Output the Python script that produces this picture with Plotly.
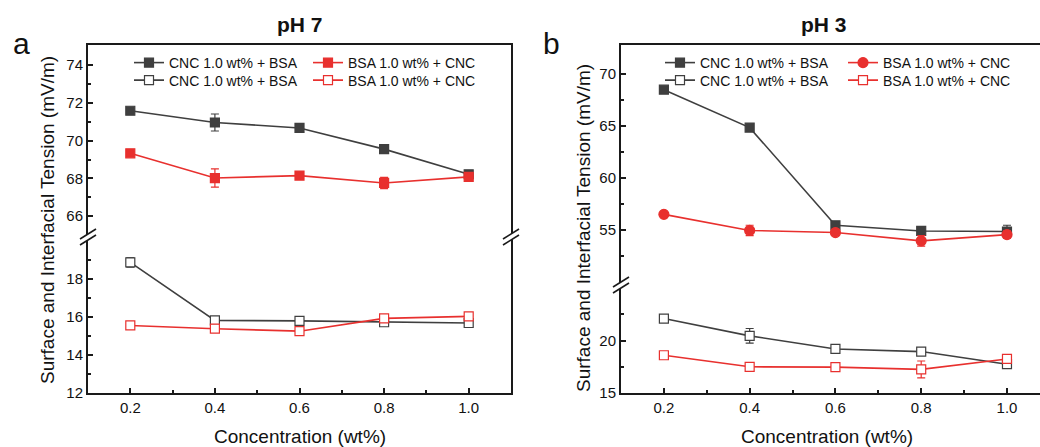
import plotly.graph_objects as go

W, H = 1040, 447

# concentration (wt%)
conc = [0.2, 0.4, 0.6, 0.8, 1.0]

# pH 7, surface (upper segment)
ph7_cnc_top = [71.58, 70.96, 70.67, 69.55, 68.22]
ph7_cnc_top_err = [0.1, 0.45, 0.1, 0.1, 0.1]
ph7_bsa_top = [69.33, 68.02, 68.15, 67.76, 68.08]
ph7_bsa_top_err = [0.1, 0.48, 0.15, 0.3, 0.15]
# pH 7, interface (lower segment)
ph7_cnc_low = [18.87, 15.82, 15.79, 15.72, 15.68]
ph7_cnc_low_err = [0.25, 0.1, 0.1, 0.15, 0.12]
ph7_bsa_low = [15.55, 15.38, 15.25, 15.92, 16.03]
ph7_bsa_low_err = [0.08, 0.12, 0.12, 0.12, 0.15]

# pH 3, surface (upper segment)
ph3_cnc_top = [68.5, 64.85, 55.45, 54.9, 54.85]
ph3_cnc_top_err = [0.2, 0.2, 0.3, 0.2, 0.6]
ph3_bsa_top = [56.5, 54.95, 54.75, 53.95, 54.55]
ph3_bsa_top_err = [0.15, 0.5, 0.25, 0.5, 0.35]
# pH 3, interface (lower segment)
ph3_cnc_low = [22.1, 20.45, 19.2, 18.95, 17.75]
ph3_cnc_low_err = [0.2, 0.7, 0.35, 0.25, 0.3]
ph3_bsa_low = [18.6, 17.5, 17.47, 17.25, 18.25]
ph3_bsa_low_err = [0.2, 0.2, 0.15, 0.8, 0.4]

name_cnc = 'CNC 1.0 wt% + BSA'
name_bsa = 'BSA 1.0 wt% + CNC'

x_ticks = [0.2, 0.4, 0.6, 0.8, 1.0]
x_minor = [0.3, 0.5, 0.7, 0.9]
ph7_top_ticks = [66, 68, 70, 72, 74]
ph7_top_minor = [65, 67, 69, 71, 73]
ph7_low_ticks = [12, 14, 16, 18]
ph7_low_minor = [13, 15, 17, 19]
ph3_top_ticks = [55, 60, 65, 70]
ph3_top_minor = [52.5, 57.5, 62.5, 67.5]
ph3_low_ticks = [15, 20]
ph3_low_minor = [17.5, 22.5]

GREY = '#3f3f3f'
RED = '#e8302e'
AX = '#1a1a1a'
FONT = 'Liberation Sans, Arial, sans-serif'


def px(x):
    return x / W


def py(y):
    return 1 - y / H


def series(y, err, color, symbol, xa, ya, name, legend, filled=True):
    return go.Scatter(
        x=conc, y=y, name=name, legend=legend, xaxis=xa, yaxis=ya,
        mode='lines+markers', showlegend=True,
        line=dict(color=color, width=1.6),
        marker=dict(symbol=symbol, size=10 if symbol == 'circle' else 9,
                    color=color if filled else 'white',
                    line=dict(color=color, width=1.2)),
        error_y=dict(type='data', array=err, color=color, thickness=1.2, width=4),
    )


fig = go.Figure()
# left panel (pH 7)
fig.add_trace(series(ph7_cnc_top, ph7_cnc_top_err, GREY, 'square', 'x2', 'y2', name_cnc, 'legend'))
fig.add_trace(series(ph7_cnc_low, ph7_cnc_low_err, GREY, 'square', 'x', 'y', name_cnc, 'legend2', False))
fig.add_trace(series(ph7_bsa_top, ph7_bsa_top_err, RED, 'square', 'x2', 'y2', name_bsa, 'legend3'))
fig.add_trace(series(ph7_bsa_low, ph7_bsa_low_err, RED, 'square', 'x', 'y', name_bsa, 'legend4', False))
# right panel (pH 3)
fig.add_trace(series(ph3_cnc_top, ph3_cnc_top_err, GREY, 'square', 'x4', 'y4', name_cnc, 'legend5'))
fig.add_trace(series(ph3_cnc_low, ph3_cnc_low_err, GREY, 'square', 'x3', 'y3', name_cnc, 'legend6', False))
fig.add_trace(series(ph3_bsa_top, ph3_bsa_top_err, RED, 'circle', 'x4', 'y4', name_bsa, 'legend7'))
fig.add_trace(series(ph3_bsa_low, ph3_bsa_low_err, RED, 'square', 'x3', 'y3', name_bsa, 'legend8', False))

tickfont = dict(family=FONT, size=15, color='#111')
common_x = dict(showline=True, linecolor=AX, linewidth=2, showgrid=False, zeroline=False,
                automargin=False, ticks='inside', ticklen=5, tickwidth=1.5, tickcolor=AX,
                tickvals=x_ticks, tickformat='.1f', tickfont=tickfont,
                minor=dict(tickvals=x_minor, ticks='inside', ticklen=3, tickwidth=1.5, tickcolor=AX))
hidden_x = dict(showline=True, linecolor=AX, linewidth=2, showgrid=False, zeroline=False,
                automargin=False, ticks='', showticklabels=False, side='top')
common_y = dict(showline=True, linecolor=AX, linewidth=2, showgrid=False, zeroline=False,
                automargin=False, ticks='inside', ticklen=5, tickwidth=1.5, tickcolor=AX,
                tickfont=tickfont)


def minor(vals):
    return dict(tickvals=vals, ticks='inside', ticklen=3, tickwidth=1.5, tickcolor=AX)


L0, L1 = px(88), px(511)
R0, R1 = px(621), 1.0
BOT, TOP = py(393), py(45)
BRK_L, BRK_R = py(237), py(285)

fig.update_layout(
    width=W, height=H,
    showlegend=True,
    margin=dict(l=0, r=0, t=0, b=0, pad=0),
    plot_bgcolor='white', paper_bgcolor='white',
    font=dict(family=FONT, color='#111'),
    xaxis=dict(common_x, domain=[L0, L1], anchor='y', range=[0.1, 1.1]),
    xaxis2=dict(hidden_x, domain=[L0, L1], anchor='y2', range=[0.1, 1.1]),
    yaxis=dict(common_y, domain=[BOT, BRK_L], anchor='x', range=[12, 20.2], mirror=True,
               tickvals=ph7_low_ticks, minor=minor(ph7_low_minor)),
    yaxis2=dict(common_y, domain=[BRK_L, TOP], anchor='x2', range=[64.9, 75.06], mirror=True,
                tickvals=ph7_top_ticks, minor=minor(ph7_top_minor)),
    xaxis3=dict(common_x, domain=[R0, R1], anchor='y3', range=[0.1, 1.077]),
    xaxis4=dict(hidden_x, domain=[R0, R1], anchor='y4', range=[0.1, 1.077]),
    yaxis3=dict(common_y, domain=[BOT, BRK_R], anchor='x3', range=[15, 25.3],
                tickvals=ph3_low_ticks, minor=minor(ph3_low_minor)),
    yaxis4=dict(common_y, domain=[BRK_R, TOP], anchor='x4', range=[49.7, 72.8],
                tickvals=ph3_top_ticks, minor=minor(ph3_top_minor)),
)

# one legend per entry so the rows can sit as close as in the original
legend_style = dict(font=dict(family=FONT, size=14, color='#111'), bgcolor='rgba(0,0,0,0)',
                    xanchor='left', yanchor='middle', itemwidth=30, visible=True)
row1, row2 = py(63), py(80.5)
fig.update_layout(
    legend=dict(legend_style, x=px(129), y=row1),
    legend2=dict(legend_style, x=px(129), y=row2),
    legend3=dict(legend_style, x=px(308), y=row1),
    legend4=dict(legend_style, x=px(308), y=row2),
    legend5=dict(legend_style, x=px(660), y=row1),
    legend6=dict(legend_style, x=px(660), y=row2),
    legend7=dict(legend_style, x=px(843), y=row1),
    legend8=dict(legend_style, x=px(843), y=row2),
)

# text annotations
ann = []
ann.append(dict(text='<b>pH 7</b>', x=px(300), y=py(25), font=dict(size=21)))
ann.append(dict(text='<b>pH 3</b>', x=px(824), y=py(25), font=dict(size=21)))
ann.append(dict(text='a', x=px(21), y=py(43), font=dict(size=30)))
ann.append(dict(text='b', x=px(551), y=py(43), font=dict(size=30)))
ann.append(dict(text='Concentration (wt%)', x=px(300), y=py(436), font=dict(size=19)))
ann.append(dict(text='Concentration (wt%)', x=px(827), y=py(436), font=dict(size=19)))
ann.append(dict(text='Surface and Interfacial Tension (mV/m)', x=px(47), y=py(220),
                textangle=-90, font=dict(size=19)))
ann.append(dict(text='Surface and Interfacial Tension (mV/m)', x=px(583), y=py(228),
                textangle=-90, font=dict(size=19)))
for a in ann:
    a.update(xref='paper', yref='paper', showarrow=False, xanchor='center', yanchor='middle')
    a['font'].update(family=FONT, color='#111')
fig.update_layout(annotations=ann)


# axis break marks
def break_mark(xc, yc):
    shapes = []
    dx, dy, gap = 8, 5, 3
    path = 'M {},{} L {},{} L {},{} L {},{} Z'.format(
        px(xc - dx), py(yc + dy - gap), px(xc + dx), py(yc - dy - gap),
        px(xc + dx), py(yc - dy + gap), px(xc - dx), py(yc + dy + gap))
    shapes.append(dict(type='path', path=path, xref='paper', yref='paper',
                       fillcolor='white', line=dict(width=0)))
    for s in (-gap, gap):
        shapes.append(dict(type='line', xref='paper', yref='paper',
                           x0=px(xc - dx), y0=py(yc + dy + s), x1=px(xc + dx), y1=py(yc - dy + s),
                           line=dict(color=AX, width=1.6)))
    return shapes


shapes = break_mark(88, 237) + break_mark(511, 237) + break_mark(621, 285)
fig.update_layout(shapes=shapes)

# the page's default body margin would shift the figure by 8 px
fig.write_html('out.html', config={'displayModeBar': False},
               post_script="document.body.style.margin='0';")
